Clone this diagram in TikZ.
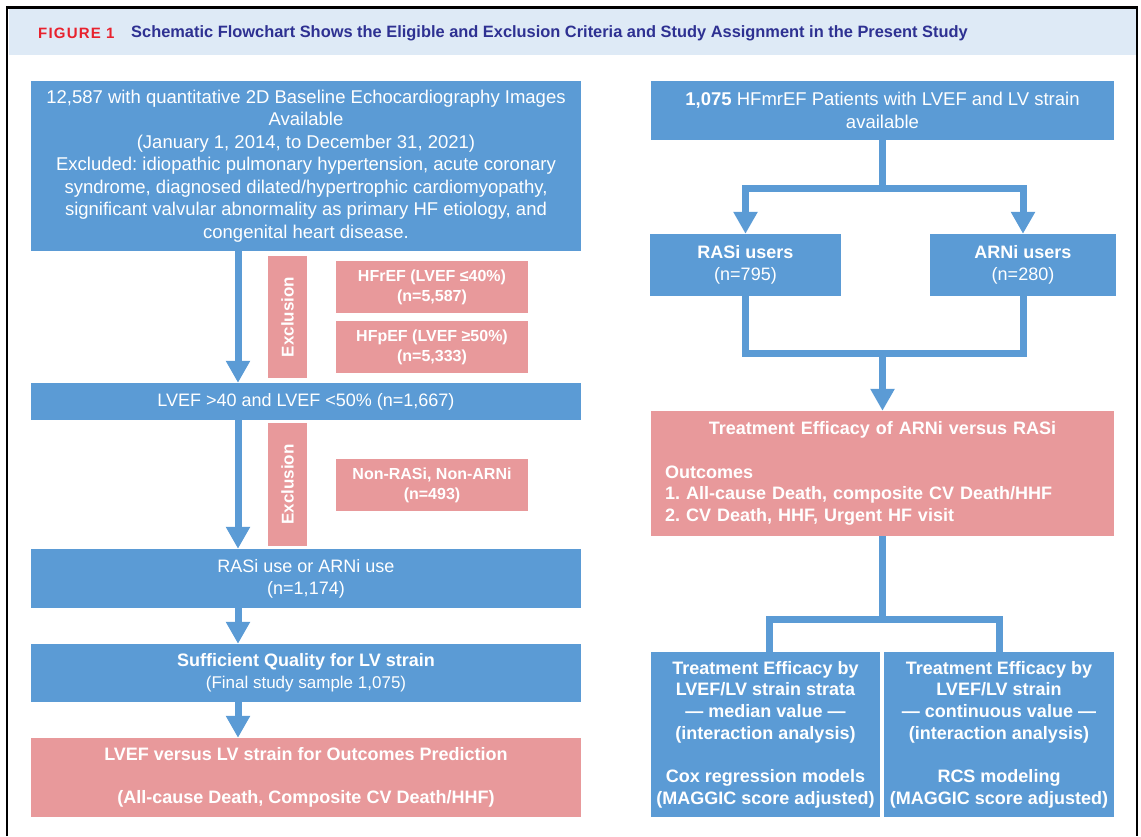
\documentclass[tikz,border=0pt]{standalone}
\usepackage{fontspec}
\setmainfont{Liberation Sans}
\usetikzlibrary{arrows.meta}
\definecolor{boxBlue}{RGB}{91,155,213}
\definecolor{boxPink}{RGB}{232,153,155}
\definecolor{headBand}{RGB}{222,234,246}
\definecolor{titleNavy}{RGB}{46,49,146}
\definecolor{figRed}{RGB}{232,34,46}
\frenchspacing

\begin{document}
\begin{tikzpicture}[x=1pt, y=-1pt,
  every node/.style={font=\fontsize{18}{21.7}\selectfont, align=center, text=white, inner sep=0pt},
  bluebox/.style={fill=boxBlue},
  pinkbox/.style={fill=boxPink},
  smallbox/.style={pinkbox, minimum width=192pt, minimum height=52pt, font=\bfseries\fontsize{16}{20}\selectfont},
  exclbox/.style={pinkbox, rotate=90, minimum height=39pt, font=\bfseries\fontsize{17}{20}\selectfont},
  link/.style={draw=boxBlue, line width=7pt},
  flow/.style={link, -{Triangle[width=23pt,length=22pt]}}]
\useasboundingbox (0,0) rectangle (1141,836);

% Header
\fill[headBand] (8.5,8) rectangle (1135.5,55);
\draw[line width=2.5pt] (7,836) -- (7,7.5) -- (1137,7.5) -- (1137,836);
\node[anchor=west, text=figRed, font=\bfseries\fontsize{15}{16}\selectfont\addfontfeatures{LetterSpace=8}] (figlabel) at (38,33) {FIGURE 1};
\node[anchor=west, text=titleNavy, font=\bfseries\fontsize{16.4}{18}\selectfont] (figtitle) at (131,33) {Schematic Flowchart Shows the Eligible and Exclusion Criteria and Study Assignment in the Present Study};

% Left column
\node[bluebox, minimum width=550pt, minimum height=170pt, font=\fontsize{18.5}{22.5}\selectfont] (screen) at (306,166) {12,587 with quantitative 2D Baseline Echocardiography Images\\Available\\(January 1, 2014, to December 31, 2021)\\Excluded: idiopathic pulmonary hypertension, acute coronary\\syndrome, diagnosed dilated/hypertrophic cardiomyopathy,\\significant valvular abnormality as primary HF etiology, and\\congenital heart disease.};
\node[exclbox, minimum width=122pt] (excl1) at (287.5,317) {Exclusion};
\node[smallbox] (hfref) at (432,287) {HFrEF (LVEF ≤40\%)\\(n=5,587)};
\node[smallbox] (hfpef) at (432,347) {HFpEF (LVEF ≥50\%)\\(n=5,333)};
\node[bluebox, minimum width=550pt, minimum height=37pt] (lvef) at (306,401.5) {LVEF >40 and LVEF <50\% (n=1,667)};
\node[exclbox, minimum width=123pt] (excl2) at (287.5,484.5) {Exclusion};
\node[smallbox] (nonuse) at (432,485) {Non-RASi, Non-ARNi\\(n=493)};
\node[bluebox, minimum width=550pt, minimum height=59pt] (drug) at (306,578.5) {RASi use or ARNi use\\(n=1,174)};
\node[bluebox, minimum width=550pt, minimum height=58pt] (quality) at (306,673) {\textbf{Sufficient Quality for LV strain}\\{\fontsize{17}{21.7}\selectfont(Final study sample 1,075)}};
\node[pinkbox, minimum width=550pt, minimum height=79pt, font=\bfseries\fontsize{18}{21.7}\selectfont] (predict) at (306,777.5) {LVEF versus LV strain for Outcomes Prediction\\[21.7pt](All-cause Death, Composite CV Death/HHF)};

% Right column
\node[bluebox, minimum width=463pt, minimum height=59pt, font=\fontsize{18.5}{22.5}\selectfont] (cohort) at (882.5,110.5) {\textbf{1,075} HFmrEF Patients with LVEF and LV strain\\available};
\node[bluebox, minimum width=191pt, minimum height=62pt] (rasi) at (745.5,265) {\textbf{RASi users}\\(n=795)};
\node[bluebox, minimum width=186pt, minimum height=62pt] (arni) at (1023,265) {\textbf{ARNi users}\\(n=280)};
\node[pinkbox, minimum width=463pt, minimum height=125pt, text width=435pt, align=left, font=\bfseries\fontsize{18}{21.7}\selectfont] (efficacy) at (882.5,473.5) {\makebox[435pt]{Treatment Efficacy of ARNi versus RASi}\\[21.7pt]Outcomes\\1. All-cause Death, composite CV Death/HHF\\2. CV Death, HHF, Urgent HF visit};
\node[bluebox, minimum width=229pt, minimum height=165pt, font=\bfseries\fontsize{18}{21.7}\selectfont] (strata) at (765.5,734.5) {Treatment Efficacy by\\LVEF/LV strain strata\\— median value —\\(interaction analysis)\\[21.7pt]Cox regression models\\(MAGGIC score adjusted)};
\node[bluebox, minimum width=230pt, minimum height=165pt, font=\bfseries\fontsize{18}{21.7}\selectfont] (continuous) at (999,734.5) {Treatment Efficacy by\\LVEF/LV strain\\— continuous value —\\(interaction analysis)\\[21.7pt]RCS modeling\\(MAGGIC score adjusted)};

% Arrows
\coordinate (trunk) at (238,0);
\draw[flow] (screen.south -| trunk) -- (lvef.north -| trunk);
\draw[flow] (lvef.south -| trunk) -- (drug.north -| trunk);
\draw[flow] (drug.south -| trunk) -- (quality.north -| trunk);
\draw[flow] (quality.south -| trunk) -- (predict.north -| trunk);

\coordinate (split) at (882.5,188);
\coordinate (merge) at (882.5,353);
\coordinate (fork) at (882.5,619);
\draw[link] (cohort.south) -- (split);
\draw[flow] (split) -| (rasi.north);
\draw[flow] (split) -| (arni.north);
\draw[link] (rasi.south) |- (merge);
\draw[link] (arni.south) |- (merge);
\draw[flow] (merge) -- (efficacy.north);
\draw[link] (efficacy.south) -- (fork);
\draw[link] (fork) -| ([xshift=4pt]strata.north);
\draw[link] (fork) -| (continuous.north);
\end{tikzpicture}
\end{document}
